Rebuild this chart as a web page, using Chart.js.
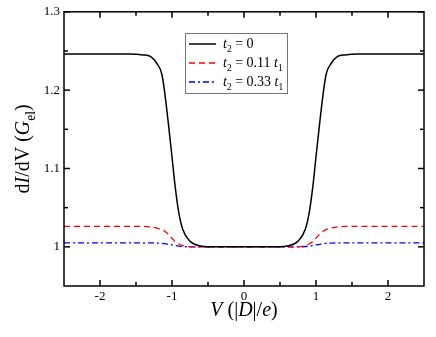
<!DOCTYPE html>
<html>
<head>
<meta charset="utf-8">
<script src="https://cdn.jsdelivr.net/npm/chart.js@4/dist/chart.umd.min.js"></script>
<style>
  html, body { margin: 0; padding: 0; background: #fff; }
  #wrap { width: 436px; height: 337px; position: relative; }
</style>
</head>
<body>
<div id="wrap"><canvas id="dIdVChart"></canvas></div>
<script>
// bias voltage V in units of |D|/e
const voltage = [-2.5, -1.6, -1.4, -1.3, -1.21, -1.14, -1.1, -1.05, -1.0, -0.96, -0.91, -0.85, -0.75, -0.6, -0.5,
  0, 0.5, 0.6, 0.75, 0.85, 0.91, 0.96, 1.0, 1.05, 1.1, 1.14, 1.21, 1.3, 1.4, 1.6, 2.5];

// dI/dV in units of G_el
const condT0 = [1.246, 1.246, 1.245, 1.243, 1.234, 1.22, 1.196, 1.157, 1.115, 1.08, 1.046, 1.022, 1.007, 1.001, 1.0,
  1.0, 1.0, 1.001, 1.007, 1.022, 1.046, 1.08, 1.115, 1.157, 1.196, 1.22, 1.234, 1.243, 1.245, 1.246, 1.246];
const condT011 = [1.026, 1.026, 1.026, 1.0255, 1.024, 1.022, 1.02, 1.016, 1.011, 1.007, 1.004, 1.0015, 1.0, 1.0, 1.0,
  1.0, 1.0, 1.0, 1.0, 1.0015, 1.004, 1.007, 1.011, 1.016, 1.02, 1.022, 1.024, 1.0255, 1.026, 1.026, 1.026];
const condT033 = [1.005, 1.005, 1.005, 1.005, 1.0048, 1.0045, 1.004, 1.0032, 1.0024, 1.0016, 1.001, 1.0004, 1.0, 1.0, 1.0,
  1.0, 1.0, 1.0, 1.0, 1.0004, 1.001, 1.0016, 1.0024, 1.0032, 1.004, 1.0045, 1.0048, 1.005, 1.005, 1.005, 1.005];

const xTickValues = [-2, -1, 0, 1, 2];
const xMinorTicks = [-1.5, -0.5, 0.5, 1.5];
const yTickValues = [1, 1.1, 1.2, 1.3];
const yMinorTicks = [1.05, 1.15, 1.25];

// legend labels: [text, italic, subscript]
const legendParts = [
  [['t', true, false], ['2', false, true], [' = 0', false, false]],
  [['t', true, false], ['2', false, true], [' = 0.11 ', false, false], ['t', true, false], ['1', false, true]],
  [['t', true, false], ['2', false, true], [' = 0.33 ', false, false], ['t', true, false], ['1', false, true]],
];
const yTitleParts = [['d', false, false], ['I', true, false], ['/dV (', false, false], ['G', true, false], ['el', false, true], [')', false, false]];
const xTitleParts = [['V', true, false], [' (|', false, false], ['D', true, false], ['|/', false, false], ['e', true, false], [')', false, false]];

const FONT = '"Liberation Serif", "DejaVu Serif", serif';

function toPoints(ys) {
  return voltage.map((v, i) => ({ x: v, y: ys[i] }));
}

function near(v, list) {
  return list.some(t => Math.abs(t - v) < 1e-6);
}

// draw text made of several styled runs, returns width
function drawParts(ctx, parts, x, y, size, measureOnly) {
  let cx = x;
  parts.forEach(([txt, italic, sub]) => {
    const s = sub ? size * 0.68 : size;
    ctx.font = (italic ? 'italic ' : '') + s + 'px ' + FONT;
    if (!measureOnly) ctx.fillText(txt, cx, sub ? y + size * 0.28 : y);
    cx += ctx.measureText(txt).width;
  });
  return cx - x;
}

const decorations = {
  id: 'decorations',
  afterDraw(chart) {
    const ctx = chart.ctx;
    const area = chart.chartArea;
    const xs = chart.scales.x;
    const ys = chart.scales.y;
    ctx.save();
    ctx.setLineDash([]);
    ctx.strokeStyle = '#000';

    // inward ticks on all sides
    ctx.lineWidth = 1.5;
    xTickValues.concat(xMinorTicks).forEach(v => {
      const len = near(v, xTickValues) ? 6 : 4;
      const px = xs.getPixelForValue(v);
      ctx.beginPath();
      ctx.moveTo(px, area.bottom); ctx.lineTo(px, area.bottom - len);
      ctx.stroke();
      ctx.beginPath();
      ctx.moveTo(px, area.top); ctx.lineTo(px, area.top + len);
      ctx.stroke();
    });
    yTickValues.concat(yMinorTicks).forEach(v => {
      const len = near(v, yTickValues) ? 6 : 4;
      const py = ys.getPixelForValue(v);
      ctx.beginPath();
      ctx.moveTo(area.left, py); ctx.lineTo(area.left + len, py);
      ctx.stroke();
      ctx.beginPath();
      ctx.moveTo(area.right, py); ctx.lineTo(area.right - len, py);
      ctx.stroke();
    });

    // frame
    ctx.lineWidth = 1.5;
    ctx.strokeRect(area.left, area.top, area.right - area.left, area.bottom - area.top);

    ctx.fillStyle = '#000';
    ctx.textBaseline = 'alphabetic';
    ctx.textAlign = 'left';

    // x title
    const xw = drawParts(ctx, xTitleParts, 0, 0, 20, true);
    drawParts(ctx, xTitleParts, (area.left + area.right) / 2 - xw / 2, 316, 20);

    // y title (rotated)
    const yw = drawParts(ctx, yTitleParts, 0, 0, 20, true);
    ctx.save();
    ctx.translate(29, (area.top + area.bottom) / 2 + yw / 2);
    ctx.rotate(-Math.PI / 2);
    drawParts(ctx, yTitleParts, 0, 0, 20);
    ctx.restore();

    // legend box
    const lx = 185, ly = 33, lw = 102, lh = 60;
    ctx.fillStyle = '#fff';
    ctx.fillRect(lx, ly, lw, lh);
    ctx.strokeStyle = '#777';
    ctx.lineWidth = 1;
    ctx.strokeRect(lx + 0.5, ly + 0.5, lw, lh);
    const rows = [44, 63, 82];
    chart.data.datasets.forEach((ds, i) => {
      ctx.strokeStyle = ds.borderColor;
      ctx.lineWidth = ds.borderWidth;
      ctx.setLineDash(ds.borderDash || []);
      ctx.beginPath();
      ctx.moveTo(189, rows[i]);
      ctx.lineTo(216, rows[i]);
      ctx.stroke();
      ctx.setLineDash([]);
      ctx.fillStyle = '#000';
      drawParts(ctx, legendParts[i], 223, rows[i] + 4, 14);
    });

    ctx.restore();
  }
};

const ctx = document.getElementById('dIdVChart').getContext('2d');
new Chart(ctx, {
  type: 'line',
  data: {
    datasets: [
      {
        label: 't2 = 0',
        data: toPoints(condT0),
        borderColor: '#000000',
        borderWidth: 1.5,
      },
      {
        label: 't2 = 0.11 t1',
        data: toPoints(condT011),
        borderColor: '#ff0000',
        borderWidth: 1.3,
        borderDash: [6, 4],
      },
      {
        label: 't2 = 0.33 t1',
        data: toPoints(condT033),
        borderColor: '#0000ff',
        borderWidth: 1.3,
        borderDash: [6, 3, 2, 3],
      },
    ],
  },
  options: {
    responsive: true,
    maintainAspectRatio: false,
    animation: false,
    layout: { padding: { top: 10, right: 12, left: 0, bottom: 0 } },
    elements: {
      point: { radius: 0 },
      line: { cubicInterpolationMode: 'monotone', fill: false },
    },
    plugins: {
      legend: { display: false },
      tooltip: { enabled: false },
    },
    scales: {
      x: {
        type: 'linear',
        min: -2.5,
        max: 2.5,
        afterFit: s => { s.height = 51; },
        grid: { display: false, drawTicks: false },
        border: { display: false },
        ticks: {
          stepSize: 0.5,
          padding: 3,
          color: '#000',
          font: { family: FONT, size: 13 },
          maxRotation: 0,
          autoSkip: false,
          callback: v => (near(v, xTickValues) ? String(Math.round(v)) : ''),
        },
      },
      y: {
        type: 'linear',
        min: 0.95,
        max: 1.3,
        afterFit: s => { s.width = 64; },
        grid: { display: false, drawTicks: false },
        border: { display: false },
        ticks: {
          stepSize: 0.05,
          padding: 4,
          color: '#000',
          font: { family: FONT, size: 13 },
          autoSkip: false,
          callback: v => (near(v, yTickValues) ? (Math.abs(v - 1) < 1e-6 ? '1' : v.toFixed(1)) : ''),
        },
      },
    },
  },
  plugins: [decorations],
});
</script>
</body>
</html>
